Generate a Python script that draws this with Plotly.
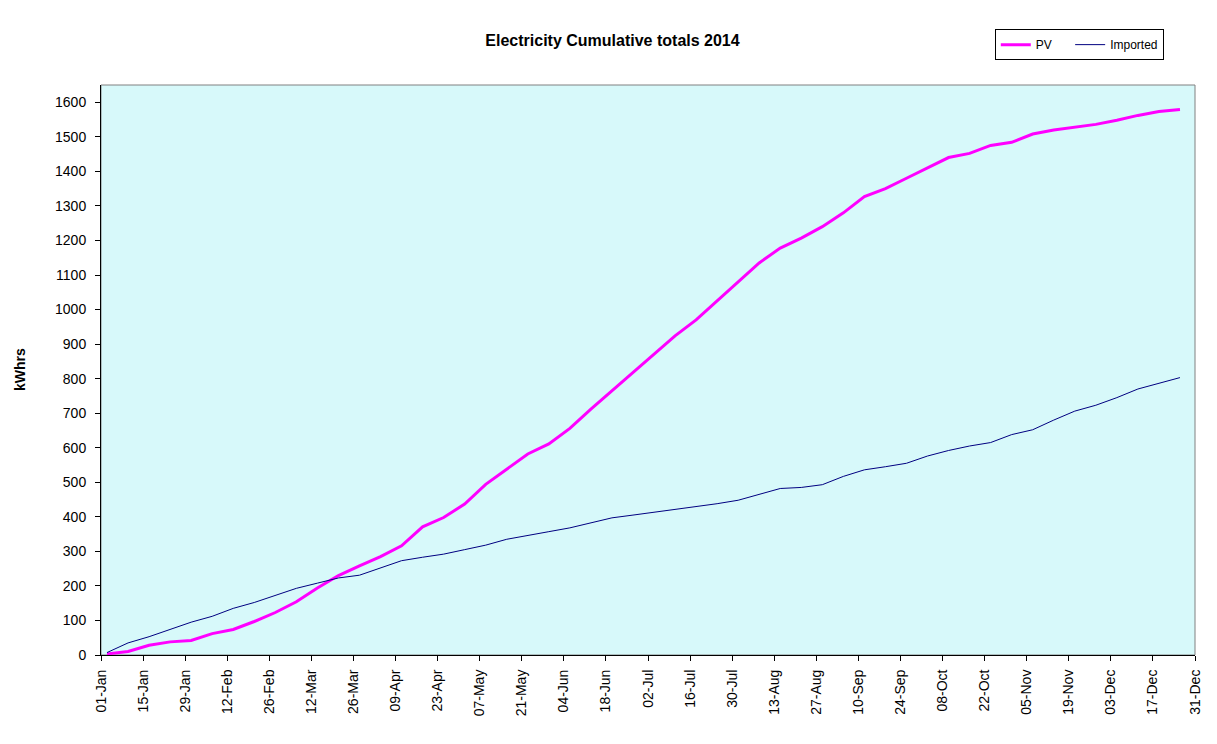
"""
Cumulative electricity totals for 2014: PV generation against imported energy.
"""
import pandas as pd
import plotly.graph_objs as go

# day-of-year offsets (from 01-Jan 2014) of the readings
READING_DAYS = [2, 9, 16, 23, 30, 37, 44, 51, 58, 65, 72, 79, 86, 93, 100, 107, 114,
                121, 128, 135, 142, 149, 156, 163, 170, 177, 184, 191, 198, 205, 212,
                219, 226, 233, 240, 247, 254, 261, 268, 275, 282, 289, 296, 303, 310,
                317, 324, 331, 338, 345, 352, 359]

PV = [3, 10, 28, 38, 42, 62, 74, 97, 123, 154, 194, 230, 258, 285, 316, 371, 398,
      437, 494, 539, 582, 611, 656, 712, 765, 818, 872, 924, 970, 1025, 1080,
      1135, 1178, 1207, 1240, 1280, 1327, 1350, 1380, 1410, 1440, 1452, 1475, 1484, 1508,
      1520, 1527, 1536, 1548, 1562, 1573, 1579]

IMPORTED = [7, 35, 53, 73, 95, 112, 135, 152, 172, 193, 208, 223, 231, 252, 273, 283, 292,
            305, 318, 335, 347, 357, 368, 382, 397, 405, 413, 421, 428, 438, 448,
            465, 482, 485, 493, 517, 536, 545, 555, 576, 592, 605, 615, 638, 652,
            680, 706, 723, 745, 770, 786, 803]

dates = pd.Timestamp("2014-01-01") + pd.to_timedelta(READING_DAYS, unit="D")

FONT = "Arial, Liberation Sans, sans-serif"

fig = go.Figure()
# non-breaking spaces widen the first legend entry to match the original spacing
fig.add_trace(go.Scatter(x=dates, y=PV, name="PV&nbsp;&nbsp;&nbsp;&nbsp;", mode="lines",
                         line=dict(color="#ff00ff", width=3)))
fig.add_trace(go.Scatter(x=dates, y=IMPORTED, name="Imported", mode="lines",
                         line=dict(color="#000080", width=1)))

# grey frame round the plot area (Excel style), axes drawn black on top
fig.add_shape(type="rect", xref="x domain", yref="y domain", x0=0, x1=1, y0=0, y1=1,
              line=dict(color="#808080", width=1), layer="below")

# y axis title as an annotation so it doesn't push the margin
fig.add_annotation(text="<b>kWhrs</b>", xref="paper", yref="paper", x=-0.074, y=0.5,
                   xanchor="center", yanchor="middle", textangle=-90, showarrow=False,
                   font=dict(size=14, color="black"))

# the page body adds an 8px offset, so the figure is a bit smaller than the window
fig.update_layout(
    width=1209, height=736,
    margin=dict(l=93, r=22, t=77, b=89, autoexpand=False),
    paper_bgcolor="white",
    plot_bgcolor="#d7f9fa",
    font=dict(family=FONT, size=14, color="black"),
    title=dict(text="<b>Electricity Cumulative totals 2014</b>", x=0.5, xanchor="center",
               y=0.9565, yanchor="middle", font=dict(size=16, color="black")),
    showlegend=True,
    legend=dict(orientation="h", x=0.817, y=1.098, xanchor="left", yanchor="top",
                bgcolor="white", bordercolor="black", borderwidth=1,
                font=dict(size=12)),
    xaxis=dict(type="date", range=["2014-01-01", "2014-12-31"],
               tick0="2014-01-01", dtick=14 * 86400000, tickformat="%d-%b",
               tickangle=-90, ticks="outside", ticklen=5, tickcolor="black",
               ticklabelstandoff=3,
               showline=True, linecolor="black", linewidth=1, showgrid=False,
               zeroline=False, automargin=False),
    yaxis=dict(range=[0, 1650], dtick=100, ticks="outside", ticklen=5,
               tickcolor="black", ticklabelstandoff=6,
               showline=True, linecolor="black", linewidth=1,
               showgrid=False, zeroline=False, automargin=False),
)

fig.write_html("out.html")
